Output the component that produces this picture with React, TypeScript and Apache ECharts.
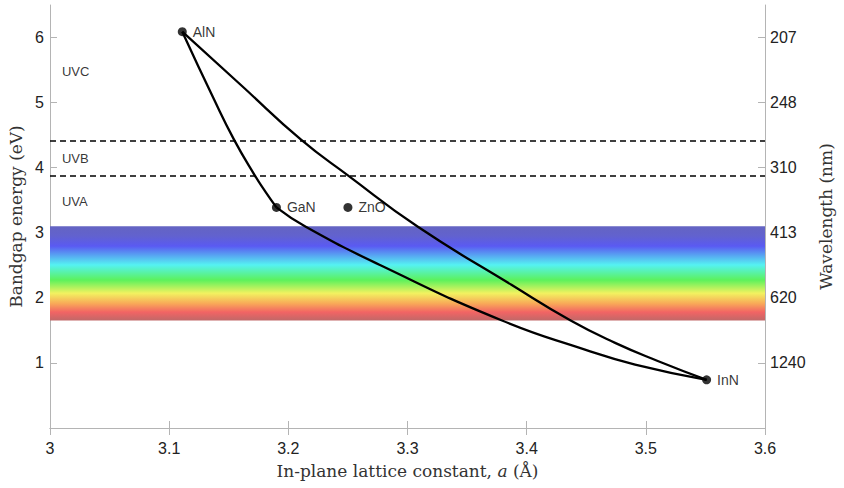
import React, { useEffect, useRef } from "react";
import * as echarts from "echarts";

// Compound end points: lattice constant a (Å), bandgap (eV)
const compounds = ["AlN", "GaN", "ZnO", "InN"];
const compoundA = [3.111, 3.19, 3.25, 3.551];
const compoundE = [6.09, 3.39, 3.39, 0.74];

// Alloy curves
const alGaN: [number, number][] = [
  [3.111, 6.09],
  [3.1376, 5.05],
  [3.1543, 4.435],
  [3.1717, 3.886],
  [3.181, 3.625],
  [3.19, 3.39],
];
const alInN: [number, number][] = [
  [3.111, 6.09],
  [3.1611, 5.255],
  [3.2104, 4.435],
  [3.2497, 3.886],
  [3.3087, 3.092],
  [3.3872, 2.2],
  [3.4369, 1.651],
  [3.4742, 1.308],
  [3.51, 1.03],
  [3.551, 0.74],
];
const inGaN: [number, number][] = [
  [3.19, 3.39],
  [3.2146, 3.092],
  [3.2778, 2.497],
  [3.3788, 1.655],
  [3.4489, 1.205],
  [3.491, 0.974],
  [3.551, 0.74],
];

// Spectral regions
const regionNames = ["UVC", "UVB", "UVA"];
const regionE = [5.48, 4.14, 3.48];
const dashedE = [4.42, 3.88];
const visibleBand = [1.65, 3.1];

const xTicks = { min: 3, max: 3.6, interval: 0.1 };
const yTicks = { min: 0, max: 6.5, interval: 1 };

const sans = "'Liberation Sans', Arial, Helvetica, sans-serif";
const serif = "'DejaVu Serif', 'Liberation Serif', serif";
const boxColor = "#b4b4b4";
const titleColor = "#333";

export default function App() {
  const ref = useRef<HTMLDivElement>(null);
  useEffect(() => {
    if (!ref.current) return;
    const chart = echarts.init(ref.current, undefined, { renderer: "svg" });
    const lineStyle = { color: "#000", width: 2.3 };
    const xCommon = {
      type: "value",
      min: xTicks.min,
      max: xTicks.max,
      interval: xTicks.interval,
      splitLine: { show: false },
      axisLine: { show: true, lineStyle: { color: boxColor, width: 1 } },
      axisTick: { show: true, inside: true, length: 7, lineStyle: { color: boxColor } },
    };
    const yCommon = {
      type: "value",
      min: yTicks.min,
      max: yTicks.max,
      interval: yTicks.interval,
      splitLine: { show: false },
      axisLine: { show: true, lineStyle: { color: boxColor, width: 1 } },
      axisTick: { show: true, inside: true, length: 7, lineStyle: { color: boxColor } },
    };
    chart.setOption({
      animation: false,
      grid: { left: 50, right: 79, top: 5, bottom: 60, containLabel: false, outerBoundsMode: "none" },
      xAxis: [
        {
          ...xCommon,
          position: "bottom",
          axisLabel: { fontFamily: sans, fontSize: 16, color: "#222", margin: 12 },
          name: "In-plane lattice constant, {i|a} (Å)",
          nameLocation: "middle",
          nameGap: 34,
          nameTextStyle: {
            fontFamily: serif,
            fontSize: 17,
            color: titleColor,
            rich: { i: { fontFamily: serif, fontSize: 17, fontStyle: "italic", color: titleColor } },
          },
        },
        {
          ...xCommon,
          position: "top",
          axisLabel: { show: false },
        },
      ],
      yAxis: [
        {
          ...yCommon,
          position: "left",
          axisLabel: {
            fontFamily: sans,
            fontSize: 16,
            color: "#222",
            margin: 6,
            showMinLabel: false,
            showMaxLabel: false,
          },
          name: "Bandgap energy (eV)",
          nameLocation: "middle",
          nameRotate: 90,
          nameGap: 23,
          nameTextStyle: { fontFamily: serif, fontSize: 17, color: titleColor },
        },
        {
          ...yCommon,
          position: "right",
          axisLabel: {
            fontFamily: sans,
            fontSize: 16,
            color: "#222",
            margin: 5,
            showMinLabel: false,
            showMaxLabel: false,
            formatter: (v: number) => (v > 0 ? String(Math.round(1240 / v)) : ""),
          },
          name: "Wavelength (nm)",
          nameLocation: "middle",
          nameRotate: 90,
          nameGap: 52,
          nameTextStyle: { fontFamily: serif, fontSize: 17, color: titleColor },
        },
      ],
      series: [
        {
          type: "line",
          data: [],
          z: 1,
          silent: true,
          markArea: {
            silent: true,
            itemStyle: {
              color: new echarts.graphic.LinearGradient(0, 0, 0, 1, [
                { offset: 0, color: "#6464c2" },
                { offset: 0.1, color: "#6262ce" },
                { offset: 0.21, color: "#5a5af2" },
                { offset: 0.41, color: "#55f2f2" },
                { offset: 0.57, color: "#5cf25c" },
                { offset: 0.71, color: "#f2f260" },
                { offset: 0.82, color: "#f8a858" },
                { offset: 0.91, color: "#f26464" },
                { offset: 1, color: "#c06868" },
              ]),
            },
            data: [[{ yAxis: visibleBand[1], xAxis: xTicks.min }, { yAxis: visibleBand[0], xAxis: xTicks.max }]],
          },
          markLine: {
            silent: true,
            symbol: ["none", "none"],
            label: { show: false },
            lineStyle: { color: "#000", width: 1.5, type: [6, 4] },
            data: dashedE.map((e) => ({ yAxis: e })),
          },
        },
        { type: "line", data: alGaN, smooth: 0.5, showSymbol: false, lineStyle, z: 3 },
        { type: "line", data: alInN, smooth: 0.5, showSymbol: false, lineStyle, z: 3 },
        { type: "line", data: inGaN, smooth: 0.5, showSymbol: false, lineStyle, z: 3 },
        {
          type: "scatter",
          z: 4,
          symbolSize: 9,
          itemStyle: { color: "#000" },
          label: {
            show: true,
            position: "right",
            distance: 6,
            fontFamily: sans,
            fontSize: 14,
            color: "#000",
            formatter: (p: any) => compounds[p.dataIndex],
          },
          data: compoundA.map((a, i) => [a, compoundE[i]]),
        },
        {
          type: "scatter",
          z: 4,
          silent: true,
          symbolSize: 1,
          itemStyle: { color: "rgba(0,0,0,0)" },
          label: {
            show: true,
            position: "inside",
            align: "left",
            fontFamily: sans,
            fontSize: 13,
            color: "#000",
            formatter: (p: any) => regionNames[p.dataIndex],
          },
          data: regionE.map((e) => [3.01, e]),
        },
      ],
    });
    return () => chart.dispose();
  }, []);
  return (
    <div
      ref={ref}
      style={{ position: "absolute", left: 0, top: 0, width: 844, height: 488 }}
    />
  );
}
